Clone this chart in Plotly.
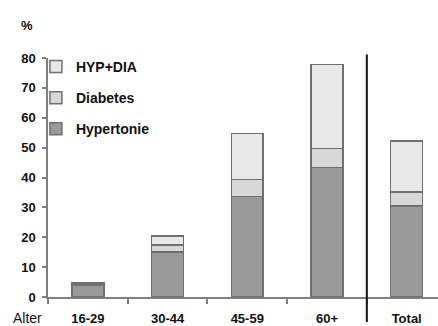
import plotly.graph_objects as go

# Age groups and stacked shares (%)
categories = ["16-29", "30-44", "45-59", "60+", "Total"]
hypertonie = [4.0, 15.0, 33.7, 43.4, 30.4]
diabetes = [0.5, 2.4, 5.7, 6.3, 4.8]
hyp_dia = [0.3, 3.1, 15.3, 28.1, 17.1]
y_ticks = [0, 10, 20, 30, 40, 50, 60, 70, 80]

W, H = 438, 326
ML, MR, MT, MB = 48, 0, 58, 29
x_range = [-0.5, 4.393]

# (name, values, fill, legend rank) - legend lists the top segment first
series = [
    ("Hypertonie", hypertonie, "#9a9a9a", 3),
    ("Diabetes", diabetes, "#d8d8d8", 2),
    ("HYP+DIA", hyp_dia, "#e8e8e8", 1),
]

fig = go.Figure()
for name, vals, col, rank in series:
    fig.add_trace(go.Bar(
        x=categories, y=vals, name=name, legendgroup=name, legendrank=rank,
        marker=dict(color=col, line=dict(color="#707070", width=1.5)),
        width=0.4,
    ))

FONT = "Liberation Sans, Arial, sans-serif"
tick_font = dict(family=FONT, size=13, color="#111111", weight="bold")

# separator between the age groups and the total column
sep_x = (3.5 - x_range[0]) / (x_range[1] - x_range[0])
fig.add_shape(type="line", xref="paper", yref="paper",
              x0=sep_x, x1=sep_x, y0=-0.105, y1=1.015,
              line=dict(color="#111111", width=2))

fig.update_layout(
    width=W, height=H,
    margin=dict(l=ML, r=MR, t=MT, b=MB),
    paper_bgcolor="white", plot_bgcolor="white",
    barmode="stack",
    showlegend=True,
    legend=dict(
        x=-0.031, y=1.03, xanchor="left", yanchor="top",
        traceorder="grouped", tracegroupgap=10,
        font=dict(family=FONT, size=14, color="#111111", weight="bold"),
        bgcolor="rgba(0,0,0,0)",
    ),
    xaxis=dict(
        type="category", range=x_range,
        showline=True, linecolor="#808080", linewidth=1.5,
        ticks="outside", tickson="boundaries", ticklen=5, tickcolor="#808080", tickwidth=1.5,
        tickfont=tick_font, ticklabelstandoff=9,
        showgrid=False, zeroline=False,
    ),
    yaxis=dict(
        range=[0, 80], tickvals=y_ticks,
        showline=True, linecolor="#808080", linewidth=1.5,
        ticks="outside", ticklen=4, tickcolor="#808080", tickwidth=1.5,
        tickfont=tick_font, ticklabelstandoff=4,
        showgrid=False, zeroline=False,
    ),
    annotations=[
        dict(text="%", xref="paper", yref="paper", x=-0.074, y=1.134,
             xanchor="left", yanchor="middle", showarrow=False,
             font=dict(family=FONT, size=13, color="#111111", weight="bold")),
        dict(text="Alter", xref="paper", yref="paper", x=-0.094, y=-0.088,
             xanchor="left", yanchor="middle", showarrow=False,
             font=dict(family=FONT, size=14, color="#111111")),
    ],
)

fig.write_html("out.html")
